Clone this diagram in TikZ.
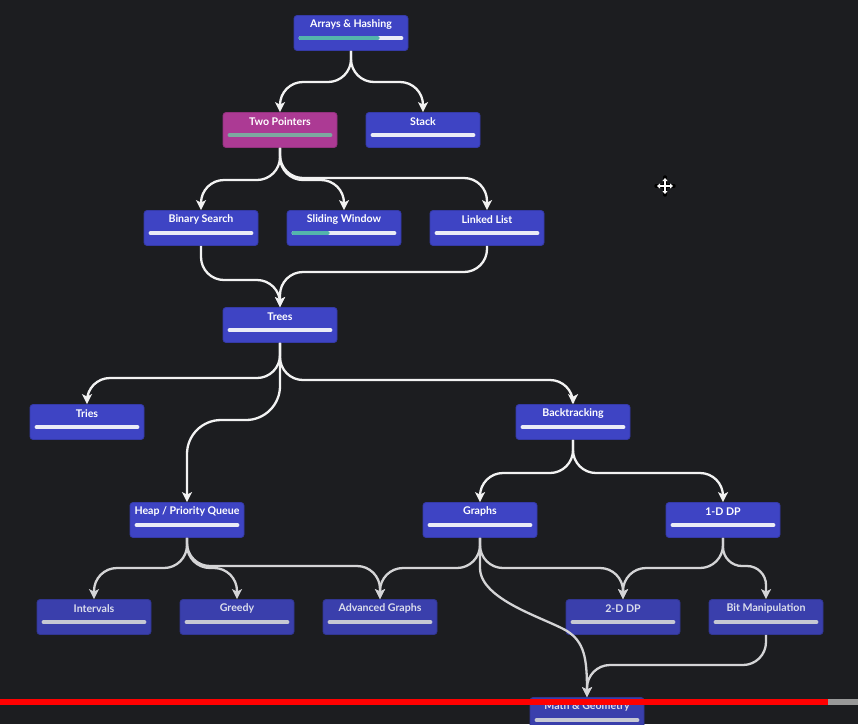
\documentclass[tikz,border=0pt]{standalone}
\usepackage{fontspec}
\setmainfont{Lato}
\usetikzlibrary{arrows.meta,calc}
\definecolor{bgc}{RGB}{28,29,32}
\definecolor{boxc}{RGB}{62,68,196}
\definecolor{boxdim}{RGB}{58,63,172}
\definecolor{magc}{RGB}{172,58,148}
\definecolor{tealc}{RGB}{84,180,172}
\definecolor{tealgray}{RGB}{125,168,160}
\definecolor{barw}{RGB}{234,236,246}
\definecolor{bardim}{RGB}{198,200,212}
\definecolor{edgec}{RGB}{242,242,242}
\definecolor{edgedim}{RGB}{212,212,214}
\definecolor{txtdim}{RGB}{220,222,236}
\tikzset{
 tbox/.style={rectangle, rounded corners=3pt, minimum width=114pt, minimum height=35pt, inner sep=0pt, draw=#1!85!black, line width=0.8pt, fill=#1},
 tlbl/.style={font=\bfseries\fontsize{10.6}{12}\selectfont, inner sep=0pt},
 edge/.style={draw=edgec, line width=2.3pt, rounded corners=23pt, -{Stealth[length=10pt,width=10pt,inset=2.5pt]}},
 barline/.style={line width=4pt, line cap=round},
}
% #1 text colour, #2 name, #3 x, #4 y, #5 text, #6 fill, #7 bar colour, #8 teal fraction
\newcommand{\topic}[8][white]{%
 \node[tbox=#6] (#2) at (#3,#4) {};
 \node[tlbl, text=#1] (#2-t) at ($(#2.north)+(0,9.2)$) {#5};
 \draw[barline, #7] ($(#2.north west)+(7,23)$) -- ($(#2.north east)+(-7,23)$);
 \ifdim#8pt>0pt \draw[barline, tealc] ($(#2.north west)+(7,23)$) -- ++(#8*100,0);\fi
}
\newcommand{\link}[4][]{\draw[edge,#1] (#2.south) -- (#2.south |- 0,#4) -| (#3.north);}
\begin{document}
\begin{tikzpicture}[x=1pt,y=-1pt]
\useasboundingbox (0,0) rectangle (858,724);
\clip (0,0) rectangle (858,724);
\fill[bgc] (0,0) rectangle (858,724);

\topic{arr}{351}{33}{Arrays \& Hashing}{boxc}{barw}{0.77}
\topic{two}{280}{130}{Two Pointers}{magc}{tealgray}{0}
\topic{stack}{423}{130}{Stack}{boxc}{barw}{0}
\topic{bin}{201}{228}{Binary Search}{boxc}{barw}{0}
\topic{slide}{344}{228}{Sliding Window}{boxc}{barw}{0.34}
\topic{link}{487}{228}{Linked List}{boxc}{barw}{0}
\topic{trees}{280}{325}{Trees}{boxc}{barw}{0}
\topic{tries}{87}{422}{Tries}{boxc}{barw}{0}
\topic{back}{573}{422}{Backtracking}{boxc}{barw}{0}
\topic{heap}{187}{520}{Heap / Priority Queue}{boxc}{barw}{0}
\topic{graphs}{480}{520}{Graphs}{boxc}{barw}{0}
\topic{dp1}{723}{520}{1-D DP}{boxc}{barw}{0}
\topic[txtdim]{intervals}{94}{617}{Intervals}{boxdim}{bardim}{0}
\topic[txtdim]{greedy}{237}{617}{Greedy}{boxdim}{bardim}{0}
\topic[txtdim]{adv}{380}{617}{Advanced Graphs}{boxdim}{bardim}{0}
\topic[txtdim]{dp2}{623}{617}{2-D DP}{boxdim}{bardim}{0}
\topic[txtdim]{bit}{766}{617}{Bit Manipulation}{boxdim}{bardim}{0}
\topic[txtdim]{math}{587}{715}{Math \& Geometry}{boxdim}{bardim}{0}

\link{arr}{two}{82}
\link{arr}{stack}{82}
\link{two}{bin}{180}
\link{two}{slide}{180}
\link{two}{link}{178}
\link{bin}{trees}{280}
\link{link}{trees}{272}
\link{trees}{tries}{378}
\link{trees}{back}{380}
\link[rounded corners=34pt]{trees}{heap}{420}
\link{back}{graphs}{473}
\link{back}{dp1}{473}
\link[draw=edgedim]{heap}{intervals}{568}
\link[draw=edgedim]{heap}{greedy}{568}
\link[draw=edgedim]{heap}{adv}{566}
\link[draw=edgedim]{graphs}{adv}{568}
\link[draw=edgedim]{graphs}{dp2}{568}
\link[draw=edgedim]{dp1}{dp2}{568}
\link[draw=edgedim, rounded corners=19pt]{dp1}{bit}{566}
\link[draw=edgedim]{bit}{math}{665}
\draw[edge, draw=edgedim, rounded corners=0pt] (graphs.south) -- ++(0,30) .. controls +(0,32) and (545,618) .. (567,631) .. controls (584,642) and ($(math.north)+(0,-40)$) .. (math.north);

% cursor
\draw[black, line width=3.4pt, line cap=round] (656,186) -- (674,186) (665,177) -- (665,195);
\draw[white, line width=1.3pt, {Triangle[length=3pt,width=5pt]}-{Triangle[length=3pt,width=5pt]}] (657,186) -- (673,186);
\draw[white, line width=1.3pt, {Triangle[length=3pt,width=5pt]}-{Triangle[length=3pt,width=5pt]}] (665,178) -- (665,194);

% video progress bar
\fill[red] (0,699) rectangle (828,705);
\fill[black!40] (828,699) rectangle (858,705);
\end{tikzpicture}
\end{document}
